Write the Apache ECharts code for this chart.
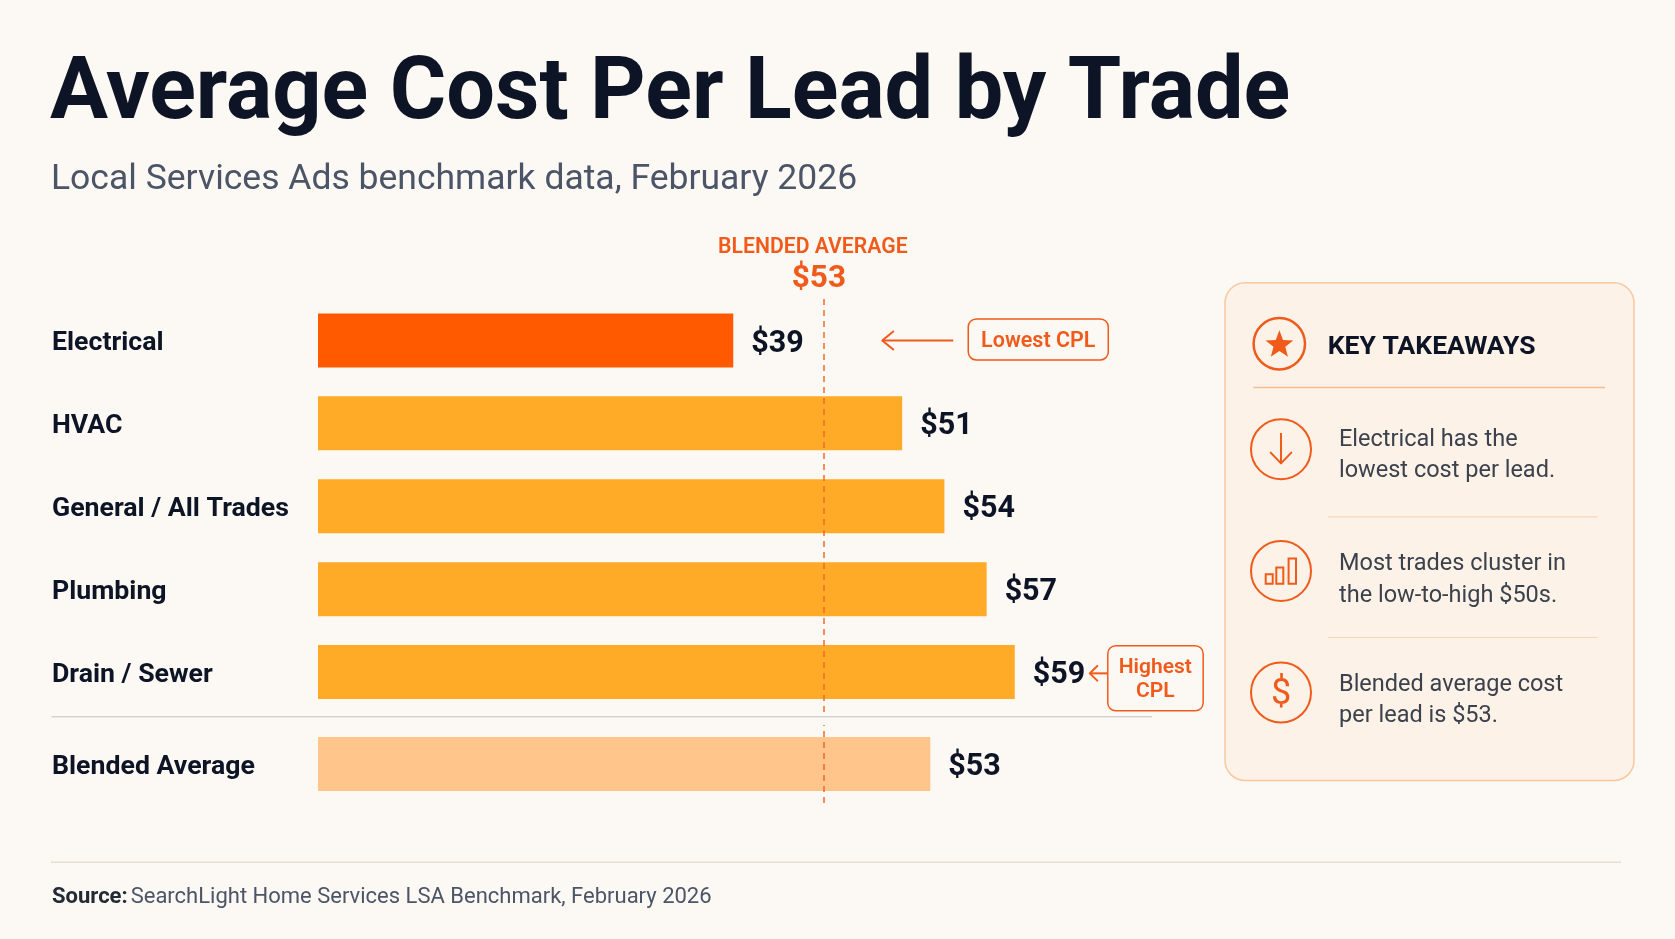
<!DOCTYPE html>
<html><head><meta charset="utf-8">
<script src="https://cdn.jsdelivr.net/npm/echarts@6/dist/echarts.min.js"></script>
<style>html,body{margin:0;padding:0;background:#fcf8f3}#c{width:1675px;height:939px}</style></head>
<body><div id="c"></div>
<script>
// ---------- data ----------
const trades = ['Electrical', 'HVAC', 'General / All Trades', 'Plumbing', 'Drain / Sewer'];
const cplValues = [39, 51, 54, 57, 59];
const blendedCategory = ['Blended Average'];
const blendedValue = [53];
const avgLineValue = [45.4];          // dashed reference line, position
const avgLabel = ['BLENDED AVERAGE', '$53'];
const titleText = ['Average Cost Per Lead by Trade'];
const subtitleText = ['Local Services Ads benchmark data, February 2026'];
const sourceText = ['Source:', 'SearchLight Home Services LSA Benchmark, February 2026'];
const takeawayTitle = ['KEY TAKEAWAYS'];
const takeaways = [
  ['Electrical has the', 'lowest cost per lead.'],
  ['Most trades cluster in', 'the low-to-high $50s.'],
  ['Blended average cost', 'per lead is $53.']
];
const callouts = ['Lowest CPL', 'Highest\nCPL'];

// ---------- style ----------
const FONT = 'Roboto';
const DARK = '#0c1425';
const ORANGE = '#f05a1a';
const C_LOW = '#ff5a00', C_BAR = '#ffab28', C_BLEND = '#ffc58b';
const minV = Math.min(...cplValues), maxV = Math.max(...cplValues);

const chart = echarts.init(document.getElementById('c'));

const commonX = { type: 'value', min: 9.5, max: 75, show: false, splitLine: { show: false } };
const catLabel = {
  show: true, align: 'left', margin: 266, formatter: '{a|{value}}',
  rich: { a: { fontSize: 26.7, fontWeight: 'bold', color: DARK, fontFamily: FONT, padding: [6.5, 0, 0, 0] } }
};
const valLabel = { show: true, position: 'right', distance: 18, offset: [0, 3.5], formatter: p => '$' + p.value, fontSize: 30.5, fontWeight: 'bold', color: DARK, fontFamily: FONT };
const mline = {
  silent: true, symbol: ['none', 'none'], label: { show: false },
  lineStyle: { color: '#f26a2c', type: [6, 5], width: 1.5 },
  data: [{ xAxis: avgLineValue[0] }]
};

chart.setOption({
  backgroundColor: '#fcf8f3',
  animation: false,
  grid: [
    { left: 318, width: 922, top: 299, height: 414.5 },
    { left: 318, width: 922, top: 725, height: 78 }
  ],
  xAxis: [Object.assign({ gridIndex: 0 }, commonX), Object.assign({ gridIndex: 1 }, commonX)],
  yAxis: [
    { type: 'category', gridIndex: 0, data: trades, inverse: true, axisLine: { show: false }, axisTick: { show: false }, splitLine: { show: false }, axisLabel: catLabel },
    { type: 'category', gridIndex: 1, data: blendedCategory, axisLine: { show: false }, axisTick: { show: false }, splitLine: { show: false }, axisLabel: catLabel }
  ],
  series: [
    {
      type: 'bar', xAxisIndex: 0, yAxisIndex: 0, barWidth: 54, clip: true,
      data: cplValues.map(v => ({ value: v, itemStyle: { color: v === minV ? C_LOW : C_BAR } })),
      label: valLabel, markLine: mline, z: 2
    },
    {
      type: 'bar', xAxisIndex: 1, yAxisIndex: 1, barWidth: 54, clip: true,
      data: blendedValue.map(v => ({ value: v, itemStyle: { color: C_BLEND } })),
      label: valLabel, markLine: mline, z: 2
    }
  ]
});

// ---------- decorations and annotations ----------
function txt(x, y, text, size, weight, color, align, extra) {
  return { type: 'text', x: x, y: y, z: 10, style: Object.assign({ text: text, fontSize: size, fontWeight: weight, fontFamily: FONT, fill: color, align: align || 'left', verticalAlign: 'middle' }, extra || {}) };
}
function line(x1, y1, x2, y2, color, w) {
  return { type: 'line', z: 5, shape: { x1, y1, x2, y2 }, style: { stroke: color, lineWidth: w || 1.5 } };
}
function poly(points, color, w) {
  return { type: 'polyline', z: 6, shape: { points: points }, style: { stroke: color, lineWidth: w || 2, fill: null, lineCap: 'round', lineJoin: 'round' } };
}
const g = [];
// title / subtitle
g.push(txt(50, 96, titleText[0], 86.4, 'bold', DARK));
g.push(txt(51, 180, subtitleText[0], 35.5, 'normal', '#4b5567'));
// separators
g.push(line(51.5, 716.7, 1152, 716.7, '#d3d3d3', 1.5));
g.push(line(51, 862.3, 1621, 862.3, '#e6ded5', 1.5));
// source
g.push({ type: 'text', x: 52, y: 897.5, z: 10, style: {
  text: '{b|' + sourceText[0] + '} {r|' + sourceText[1] + '}', verticalAlign: 'middle', fontFamily: FONT,
  rich: { b: { fontSize: 22, fontWeight: 'bold', fill: '#232a36', fontFamily: FONT }, r: { fontSize: 22, fill: '#4b5567', fontFamily: FONT } } } });

// blended average label over dashed line
const lx = chart.convertToPixel({ xAxisIndex: 0 }, avgLineValue[0]);
g.push(txt(lx - 10.5, 247.5, avgLabel[0], 21.2, '600', ORANGE, 'center'));
g.push(txt(lx - 4.5, 279, avgLabel[1], 31.5, 'bold', ORANGE, 'center'));

// callout: lowest
const pLow = chart.convertToPixel({ gridIndex: 0 }, [minV, cplValues.indexOf(minV)]);
{
  const bx = pLow[0], by = pLow[1];
  g.push(line(bx + 149, by, bx + 220, by, ORANGE, 2));
  g.push(poly([[bx + 160, by - 9], [bx + 149, by], [bx + 160, by + 9]], ORANGE, 2));
  g.push({ type: 'rect', z: 6, shape: { x: bx + 235, y: by - 21.5, width: 140, height: 41, r: 8 }, style: { stroke: ORANGE, lineWidth: 1.5, fill: 'rgba(0,0,0,0)' } });
  g.push(txt(bx + 305, by + 1, callouts[0], 21.5, '600', ORANGE, 'center'));
}
// callout: highest
const pHigh = chart.convertToPixel({ gridIndex: 0 }, [maxV, cplValues.indexOf(maxV)]);
{
  const bx = pHigh[0], by = pHigh[1];
  g.push(line(bx + 75, by + 1.3, bx + 93, by + 1.3, ORANGE, 2));
  g.push(poly([[bx + 82.5, by - 6], [bx + 75, by + 1.3], [bx + 82.5, by + 8.6]], ORANGE, 2));
  g.push({ type: 'rect', z: 6, shape: { x: bx + 93, y: by - 26.3, width: 95.4, height: 65, r: 8 }, style: { stroke: ORANGE, lineWidth: 1.5, fill: 'rgba(0,0,0,0)' } });
  g.push(txt(bx + 140.5, by + 8, callouts[1], 21, '600', ORANGE, 'center', { lineHeight: 24 }));
}

// takeaways card
g.push({ type: 'rect', z: 1, shape: { x: 1225, y: 282.8, width: 409, height: 497.7, r: 20 }, style: { fill: '#fdf2e7', stroke: '#f8c8a2', lineWidth: 1.5 } });
g.push({ type: 'circle', z: 6, shape: { cx: 1279.3, cy: 343.7, r: 25.7 }, style: { stroke: ORANGE, lineWidth: 2.5, fill: null } });
{
  const pts = [], cx = 1279.4, cy = 344.9, R = 14.6, r = 6.2;
  for (let i = 0; i < 10; i++) {
    const a = -Math.PI / 2 + i * Math.PI / 5, rr = i % 2 ? r : R;
    pts.push([cx + rr * Math.cos(a), cy + rr * Math.sin(a)]);
  }
  g.push({ type: 'polygon', z: 7, shape: { points: pts }, style: { fill: ORANGE } });
}
g.push(txt(1327.7, 347, takeawayTitle[0], 26.5, 'bold', DARK));
g.push(line(1253.3, 387.6, 1605, 387.6, '#f6bd92', 1.5));
g.push(line(1327.7, 516.8, 1597.7, 516.8, '#f8d6b8', 1.2));
g.push(line(1327.7, 637.5, 1597.7, 637.5, '#f8d6b8', 1.2));
const itemCY = [449.2, 570.9, 692.6];
const textBase = [[445.1, 476.9], [569.2, 601.3], [690.2, 722]];
itemCY.forEach((cy, i) => {
  g.push({ type: 'circle', z: 6, shape: { cx: 1281, cy: cy, r: 30 }, style: { stroke: ORANGE, lineWidth: 2, fill: null } });
  g.push(txt(1339, textBase[i][0] - 5.4, takeaways[i][0], 23.5, 'normal', '#3b414d'));
  g.push(txt(1339, textBase[i][1] - 5.4, takeaways[i][1], 23.5, 'normal', '#3b414d'));
});
// icon 1: down arrow
g.push(line(1281, 433, 1281, 463.2, ORANGE, 2));
g.push(poly([[1270.7, 452.6], [1281, 463.4], [1291.3, 452.6]], ORANGE, 2));
// icon 2: bar chart
[[1265.7, 574.3, 7, 9.4], [1276.3, 567.5, 7, 16.2], [1288.6, 558.4, 7.4, 25.3]].forEach(b => {
  g.push({ type: 'rect', z: 6, shape: { x: b[0], y: b[1], width: b[2], height: b[3] }, style: { stroke: ORANGE, lineWidth: 2, fill: null } });
});
// icon 3: dollar
g.push(txt(1281, 694.5, '$', 36, 'normal', ORANGE, 'center'));

chart.setOption({ graphic: g });
</script></body></html>
